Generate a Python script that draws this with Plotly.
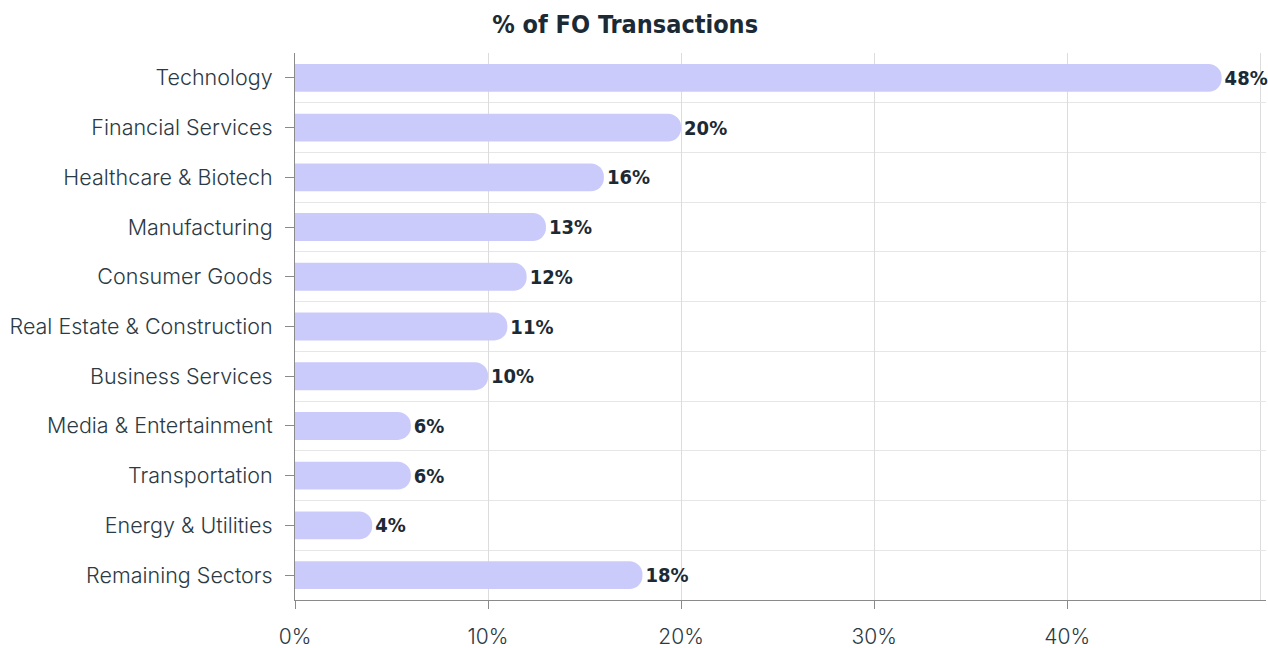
import plotly.graph_objects as go

categories = ["Technology", "Financial Services", "Healthcare & Biotech", "Manufacturing",
              "Consumer Goods", "Real Estate & Construction", "Business Services",
              "Media & Entertainment", "Transportation", "Energy & Utilities", "Remaining Sectors"]
values = [48, 20, 16, 13, 12, 11, 10, 6, 6, 4, 18]
x_ticks = [0, 10, 20, 30, 40]
x_tick_labels = ["0%", "10%", "20%", "30%", "40%"]

positions = list(range(len(categories)))
cond_font = "DejaVu Sans Condensed"
label_font = "Inter, Roboto, sans-serif"

fig = go.Figure(go.Bar(
    x=values, y=positions, orientation="h",
    marker=dict(color="#cbcbfb", line=dict(width=0), cornerradius="50%"),
    width=0.56,
    text=[f"{v}%" for v in values], textposition="outside",
    textfont=dict(family=cond_font, size=20, color="#1c2a35", weight="bold"),
    cliponaxis=False, hoverinfo="skip",
))

fig.update_layout(
    template="none",
    width=1268, height=648,
    paper_bgcolor="white", plot_bgcolor="white",
    margin=dict(l=295, r=2, t=53, b=48, autoexpand=False),
    showlegend=False,
    title=dict(text="% of FO Transactions", x=0.493, xanchor="center", y=0.962, yanchor="middle",
               font=dict(family=cond_font, size=25, color="#1c2a35", weight="bold")),
    xaxis=dict(range=[0, 50.3], tickvals=x_ticks, ticktext=x_tick_labels, automargin=False,
               showgrid=True, gridcolor="#dcdcdc", gridwidth=1,
               minor=dict(tick0=0, dtick=10, showgrid=True, gridcolor="#dcdcdc", gridwidth=1, ticks=""),
               showline=True, linecolor="#8a8a8a", linewidth=1,
               ticks="outside", ticklen=8, tickcolor="#8a8a8a", ticklabelstandoff=10,
               tickfont=dict(family=label_font, size=21, color="#2b3a44", weight=300),
               zeroline=False),
    yaxis=dict(range=[10.5, -0.5], tickvals=positions, ticktext=categories, automargin=False,
               showgrid=False,
               minor=dict(tick0=0.5, dtick=1, showgrid=True, gridcolor="#e6e6e6", gridwidth=1, ticks=""),
               showline=True, linecolor="#8a8a8a", linewidth=1,
               ticks="outside", ticklen=9, tickcolor="#8a8a8a", ticklabelstandoff=8,
               tickfont=dict(family=label_font, size=21.5, color="#2b3a44", weight=300),
               zeroline=False),
)

fig.write_html("out.html", config={"displayModeBar": False},
               post_script="document.body.style.margin='0';")
